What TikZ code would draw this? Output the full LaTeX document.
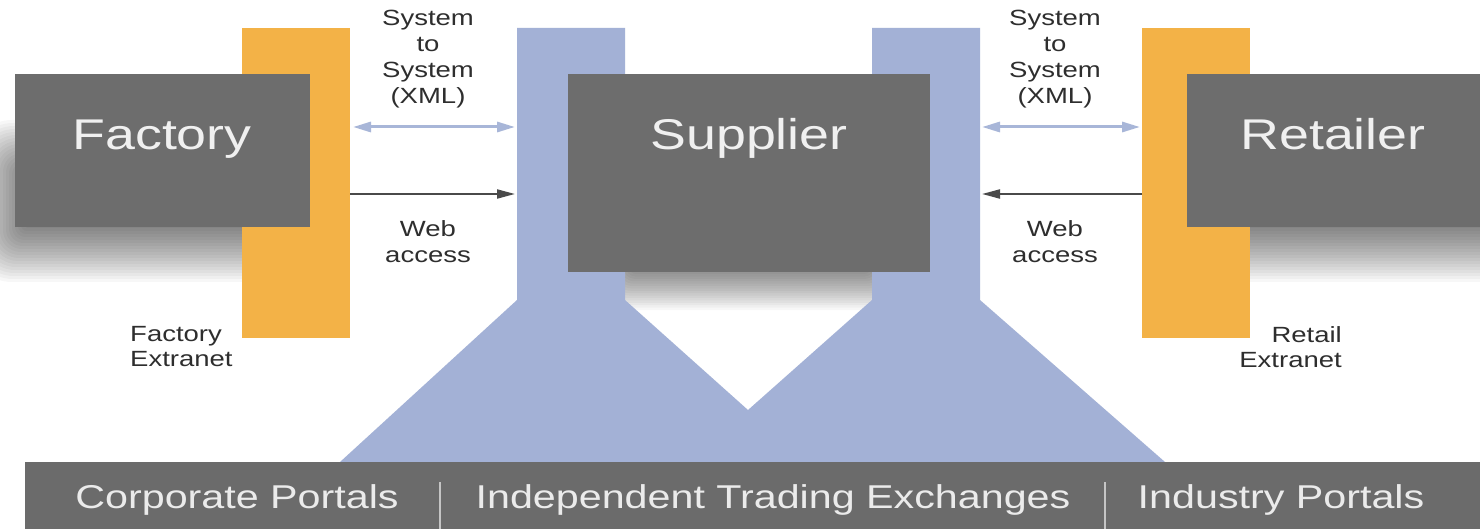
\documentclass[tikz,border=0pt]{standalone}
\usepackage{fontspec}
\setmainfont{Liberation Sans}[FakeStretch=1.25]
\usetikzlibrary{arrows.meta}
\definecolor{boxgray}{HTML}{6D6D6D}
\definecolor{bargray}{HTML}{6B6B6B}
\definecolor{orangebar}{HTML}{F3B247}
\definecolor{bluecol}{HTML}{A3B1D6}
\definecolor{sysblue}{HTML}{A8B6D8}
\definecolor{webdark}{HTML}{4A4A4A}
\definecolor{txtdark}{HTML}{2E2E2E}
% #1..#4 core rectangle, #5 step
\newcommand\softshadow[5]{%
  \foreach \i in {1,...,20}{%
    \fill[black,opacity=0.03,rounded corners=\i*#5*0.7pt]
      ({#1-\i*#5},{#2-\i*#5}) rectangle ({#3+\i*#5},{#4+\i*#5});}}
\begin{document}
\begin{tikzpicture}[x=1pt,y=-1pt,
  graybox/.style={fill=boxgray,draw=none,inner sep=0pt,anchor=north west},
  orbar/.style={fill=orangebar,draw=none,inner sep=0pt,anchor=north west,minimum width=108pt,minimum height=310pt},
  bigtext/.style={text=white!94!black,font=\fontsize{43}{50}\selectfont,anchor=base,inner sep=0pt},
  lbl/.style={text=txtdark,font=\fontsize{22}{26}\selectfont,align=center,inner sep=0pt,anchor=north},
  extlbl/.style={text=txtdark,font=\fontsize{22}{25.5}\selectfont,inner sep=0pt},
  bottext/.style={text=white!92!black,font=\fontsize{33}{40}\selectfont,anchor=base,inner sep=0pt},
  sysarrow/.style={draw=sysblue,line width=3pt,{Triangle[length=18pt,width=10pt]}-{Triangle[length=18pt,width=10pt]}},
  webarrow/.style={draw=webdark,line width=2pt,-{Triangle[length=18pt,width=9pt]}},
  sep/.style={draw=white!60!boxgray,line width=1.5pt}]
\useasboundingbox (0,0) rectangle (1480,529);
\fill[white] (0,0) rectangle (1480,529);

% shadows
\softshadow{30}{180}{240}{222}{3}
\softshadow{640}{200}{860}{262}{2.4}
\softshadow{1230}{180}{1530}{222}{3}

% extranet bars
\node[orbar] (fext) at (242,28) {};
\node[orbar] (rext) at (1142,28) {};

% exchange (blue) shape
\coordinate (b1) at (517,28);
\coordinate (b2) at (625,28);
\coordinate (b3) at (625,300);
\coordinate (bv) at (748,410);
\coordinate (b4) at (872,300);
\coordinate (b5) at (872,28);
\coordinate (b6) at (980,28);
\coordinate (b7) at (980,300);
\coordinate (b8) at (1165,462);
\coordinate (b9) at (340,462);
\coordinate (b10) at (517,300);
\fill[bluecol] (b1) -- (b2) -- (b3) -- (bv) -- (b4) -- (b5) -- (b6) -- (b7) -- (b8) -- (b9) -- (b10) -- cycle;

% main boxes
\node[graybox,minimum width=295pt,minimum height=153pt] (factory) at (15,74) {};
\node[graybox,minimum width=362pt,minimum height=198pt] (supplier) at (568,74) {};
\node[graybox,minimum width=300pt,minimum height=153pt] (retailer) at (1187,74) {};
\node[bigtext] (factoryt) at (162,150) {Factory};
\node[bigtext] (suppliert) at (749,150) {Supplier};
\node[bigtext] (retailert) at (1333,150) {Retailer};

% connectors
\coordinate (lsysA) at (353,127);
\coordinate (lsysB) at (515,127);
\coordinate (lwebB) at (515,194);
\coordinate (rsysA) at (982,127);
\coordinate (rsysB) at (1140,127);
\coordinate (rwebB) at (982,194);
\draw[sysarrow] (lsysA) -- (lsysB);
\draw[webarrow] (fext.east |- lwebB) -- (lwebB);
\draw[sysarrow] (rsysA) -- (rsysB);
\draw[webarrow] (rext.west |- rwebB) -- (rwebB);

% labels
\node[lbl] (lsys) at (428,10) {System\\to\\System\\(XML)};
\node[lbl] (lweb) at (428,220) {Web\\access};
\node[lbl] (rsys) at (1055,10) {System\\to\\System\\(XML)};
\node[lbl] (rweb) at (1055,220) {Web\\access};
\node[extlbl,anchor=north west,align=left] (fextl) at (130,326) {Factory\\Extranet};
\node[extlbl,anchor=north east,align=right] (rextl) at (1342,326) {Retail\\Extranet};

% bottom bar
\node[fill=bargray,inner sep=0pt,anchor=north west,minimum width=1455pt,minimum height=67pt] (bar) at (25,462) {};
\node[bottext] (corp) at (237,508) {Corporate Portals};
\node[bottext] (ite) at (773,508) {Independent Trading Exchanges};
\node[bottext] (indp) at (1281,508) {Industry Portals};
\coordinate (s1t) at (440,482);
\coordinate (s1b) at (440,529);
\coordinate (s2t) at (1105,482);
\coordinate (s2b) at (1105,529);
\draw[sep] (s1t) -- (s1b);
\draw[sep] (s2t) -- (s2b);
\end{tikzpicture}
\end{document}
